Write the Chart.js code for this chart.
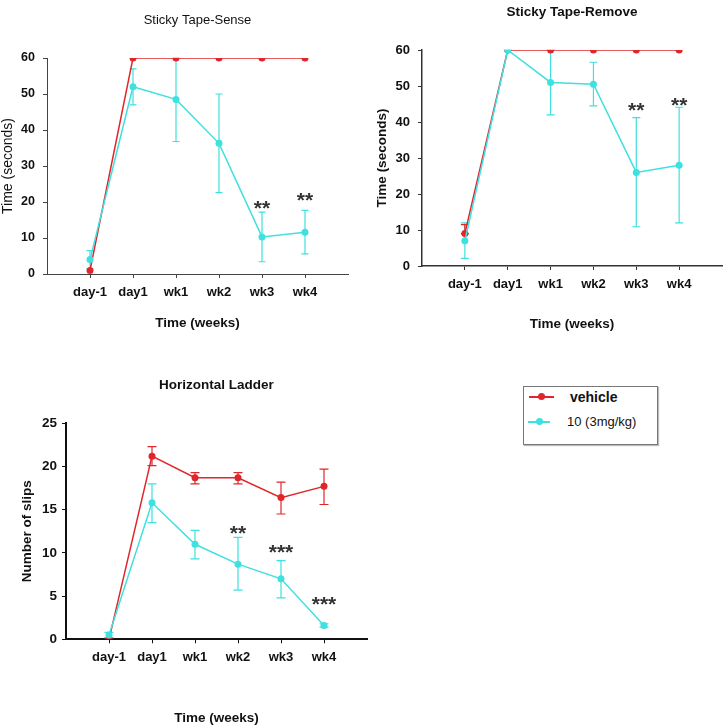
<!DOCTYPE html>
<html>
<head>
<meta charset="utf-8">
<script src="https://cdn.jsdelivr.net/npm/chart.js@4.4.1/dist/chart.umd.min.js"></script>
<style>
	body { margin: 0; background: #fff; width: 728px; height: 727px; position: relative; overflow: hidden; font-family: "Liberation Sans", Arial, sans-serif; }
	canvas { position: absolute; }
	#legend { position: absolute; left: 523px; top: 386px; width: 133px; height: 57px; border: 1px solid #777; box-shadow: 1px 1px 1px #bbb; }
	#legend .row { position: absolute; left: 0; height: 16px; line-height: 16px; color: #111; }
	#legend .mark { position: absolute; top: 7px; height: 1.5px; }
	#legend .dot { position: absolute; top: -3px; width: 7px; height: 7px; border-radius: 50%; }
</style>
</head>
<body>
<canvas id="sense" width="364" height="340" style="left:0;top:0"></canvas>
<canvas id="remove" width="364" height="340" style="left:364px;top:0"></canvas>
<canvas id="ladder" width="380" height="367" style="left:0;top:360px"></canvas>

<div id="legend">
	<div class="row" style="top:2px;width:130px">
		<span class="mark" style="left:5px;width:25px;background:#e0262b"><span class="dot" style="left:9px;background:#e0262b"></span></span>
		<span style="position:absolute;left:46px;font-weight:bold;font-size:14px">vehicle</span>
	</div>
	<div class="row" style="top:27px;width:130px">
		<span class="mark" style="left:4px;width:22px;background:#3fe0e0"><span class="dot" style="left:8px;background:#3fe0e0"></span></span>
		<span style="position:absolute;left:43px;font-size:13px">10 (3mg/kg)</span>
	</div>
</div>

<script>
const weeks = ["day-1", "day1", "wk1", "wk2", "wk3", "wk4"];

// Sticky Tape-Sense
const senseVehicle = [1, 60, 60, 60, 60, 60];
const senseDrug = [4, 52, 48.5, 36.3, 10.3, 11.6];
const senseDrugLo = [1.5, 47, 36.8, 22.6, 3.4, 5.6];
const senseDrugHi = [6.5, 57, 60, 50, 17.2, 17.7];
const senseStars = ["", "", "", "", "**", "**"];
const senseStarsAt = [null, null, null, null, 19.7, 21.9];

// Sticky Tape-Remove
const removeVehicle = [9, 60, 60, 60, 60, 60];
const removeVehicleLo = [9, null, null, null, null, null];
const removeVehicleHi = [11.5, null, null, null, null, null];
const removeDrug = [7, 60, 51, 50.5, 26, 28];
const removeDrugLo = [2.1, 60, 42, 44.5, 10.9, 12];
const removeDrugHi = [12, 60, 60, 56.6, 41.2, 44.1];
const removeStars = ["", "", "", "", "**", "**"];
const removeStarsAt = [null, null, null, null, 44.8, 46];

// Horizontal Ladder
const ladderVehicle = [0, 21.2, 18.7, 18.7, 16.4, 17.7];
const ladderVehicleLo = [null, 20.1, 18.0, 18.0, 14.5, 15.6];
const ladderVehicleHi = [null, 22.3, 19.3, 19.3, 18.2, 19.7];
const ladderDrug = [0.5, 15.8, 11.0, 8.7, 7.0, 1.6];
const ladderDrugLo = [0.2, 13.5, 9.3, 5.7, 4.8, 1.4];
const ladderDrugHi = [0.8, 18.0, 12.6, 11.8, 9.1, 1.8];
const ladderStars = ["", "", "", "**", "***", "***"];
const ladderStarsAt = [null, null, null, 12.9, 10.7, 4.7];

const RED = "#e0262b";
const CYAN = "#3fe0e0";
const FONT = "'Liberation Sans', Arial, sans-serif";

function points(values) {
	return values.map((v, i) => ({x: i, y: v}));
}

// vertical error bars with caps, under the points
const errorBars = {
	id: "errorBars",
	beforeDatasetsDraw(chart, args, opts) {
		const ctx = chart.ctx;
		const xs = chart.scales.x, ys = chart.scales.y;
		const cap = opts.cap || 4;
		chart.data.datasets.forEach(ds => {
			if(!ds.lo)
				return;
			ctx.save();
			ctx.strokeStyle = ds.borderColor;
			ctx.lineWidth = 1.2;
			ds.data.forEach((p, i) => {
				if(ds.lo[i] == null || ds.hi[i] == null)
					return;
				const px = xs.getPixelForValue(p.x);
				const top = ys.getPixelForValue(ds.hi[i]);
				const bot = ys.getPixelForValue(ds.lo[i]);
				ctx.beginPath();
				ctx.moveTo(px, top); ctx.lineTo(px, bot);
				ctx.moveTo(px - cap, top); ctx.lineTo(px + cap, top);
				ctx.moveTo(px - cap, bot); ctx.lineTo(px + cap, bot);
				ctx.stroke();
			});
			ctx.restore();
		});
	}
};

// significance stars and the panel heading
const marks = {
	id: "marks",
	afterDatasetsDraw(chart, args, opts) {
		const ctx = chart.ctx;
		const xs = chart.scales.x, ys = chart.scales.y;
		const area = chart.chartArea;
		ctx.save();
		ctx.textAlign = "center";
		ctx.fillStyle = "#111";
		ctx.textBaseline = "middle";
		ctx.font = opts.titleFont;
		ctx.fillText(opts.title, (area.left + area.right) / 2, area.top - 38);

		ctx.fillStyle = "#333";
		ctx.font = "bold 21px " + FONT;
		ctx.textBaseline = "alphabetic";
		opts.stars.forEach((s, i) => {
			if(!s)
				return;
			ctx.fillText(s, xs.getPixelForValue(i), ys.getPixelForValue(opts.starsAt[i]) + 12);
		});
		ctx.restore();
	}
};

function makeChart(id, cfg) {
	const axisColor = cfg.axisColor;
	return new Chart(document.getElementById(id), {
		type: "line",
		data: {
			datasets: [
				{
					label: "10 (3mg/kg)",
					data: points(cfg.drug),
					lo: cfg.drugLo,
					hi: cfg.drugHi,
					borderColor: CYAN,
					backgroundColor: CYAN,
					borderWidth: 1.5,
					pointRadius: 3.5,
					pointBorderWidth: 0,
					tension: 0
				},
				{
					label: "vehicle",
					data: points(cfg.vehicle),
					lo: cfg.vehicleLo,
					hi: cfg.vehicleHi,
					borderColor: RED,
					backgroundColor: RED,
					borderWidth: 1.5,
					pointRadius: 3.5,
					pointBorderWidth: 0,
					tension: 0
				}
			]
		},
		options: {
			responsive: false,
			animation: false,
			events: [],
			layout: {padding: {top: cfg.top, right: cfg.right, left: 0, bottom: 0}},
			plugins: {
				legend: {display: false},
				tooltip: {enabled: false},
				errorBars: {cap: cfg.cap},
				marks: {title: cfg.title, titleFont: cfg.titleFont, stars: cfg.stars, starsAt: cfg.starsAt}
			},
			scales: {
				x: {
					type: "linear",
					min: cfg.xMin,
					max: cfg.xMax,
					afterBuildTicks: s => { s.ticks = weeks.map((w, i) => ({value: i})); },
					afterFit: s => { s.height = cfg.xHeight; },
					border: {color: axisColor, width: cfg.axisWidth},
					grid: {drawOnChartArea: false, drawTicks: true, tickLength: 4, color: axisColor},
					ticks: {
						autoSkip: false,
						maxRotation: 0,
						padding: cfg.xPad,
						color: "#111",
						font: {family: FONT, size: 13, weight: "bold"},
						callback: v => weeks[v] !== undefined ? weeks[v] : ""
					},
					title: {
						display: true,
						text: "Time (weeks)",
						color: "#111",
						font: {family: FONT, size: 13.5, weight: "bold"},
						padding: {top: 0, bottom: cfg.xTitlePad}
					}
				},
				y: {
					min: 0,
					max: cfg.yMax,
					afterFit: s => { s.width = cfg.yWidth; },
					border: {color: axisColor, width: cfg.axisWidth},
					grid: {drawOnChartArea: false, drawTicks: true, tickLength: cfg.yTick, color: axisColor},
					ticks: {
						stepSize: cfg.yStep,
						padding: cfg.yPad,
						color: "#111",
						font: {family: FONT, size: cfg.yFont, weight: "bold"}
					},
					title: {
						display: true,
						text: cfg.yTitle,
						color: "#111",
						font: cfg.yTitleFont,
						padding: {top: cfg.yTitlePad, bottom: 0}
					}
				}
			}
		},
		plugins: [errorBars, marks]
	});
}

makeChart("sense", {
	title: "Sticky Tape-Sense",
	titleFont: "13px " + FONT,
	vehicle: senseVehicle, vehicleLo: null, vehicleHi: null,
	drug: senseDrug, drugLo: senseDrugLo, drugHi: senseDrugHi,
	stars: senseStars, starsAt: senseStarsAt,
	top: 58, right: 16, xHeight: 66, yWidth: 47,
	xMin: -1, xMax: 6, yMax: 60, yStep: 10,
	yTick: 4, yPad: 8, yFont: 12.5, xPad: 7, xTitlePad: 9,
	yTitle: "Time (seconds)", yTitleFont: {family: FONT, size: 14, weight: "normal"}, yTitlePad: 0,
	axisColor: "#444", axisWidth: 1, cap: 3.5
});

makeChart("remove", {
	title: "Sticky Tape-Remove",
	titleFont: "bold 13.5px " + FONT,
	vehicle: removeVehicle, vehicleLo: removeVehicleLo, vehicleHi: removeVehicleHi,
	drug: removeDrug, drugLo: removeDrugLo, drugHi: removeDrugHi,
	stars: removeStars, starsAt: removeStarsAt,
	top: 50, right: 6, xHeight: 74, yWidth: 58,
	xMin: -1, xMax: 6, yMax: 60, yStep: 10,
	yTick: 4, yPad: 8, yFont: 13, xPad: 6.5, xTitlePad: 8,
	yTitle: "Time (seconds)", yTitleFont: {family: FONT, size: 13.5, weight: "bold"}, yTitlePad: 10,
	axisColor: "#333", axisWidth: 1.5, cap: 4
});

makeChart("ladder", {
	title: "Horizontal Ladder",
	titleFont: "bold 13.5px " + FONT,
	vehicle: ladderVehicle, vehicleLo: ladderVehicleLo, vehicleHi: ladderVehicleHi,
	drug: ladderDrug, drugLo: ladderDrugLo, drugHi: ladderDrugHi,
	stars: ladderStars, starsAt: ladderStarsAt,
	top: 63.3, right: 13, xHeight: 87.7, yWidth: 66,
	xMin: -1, xMax: 6, yMax: 25, yStep: 5,
	yTick: 4, yPad: 5, yFont: 13.5, xPad: 6.5, xTitlePad: 1,
	yTitle: "Number of slips", yTitleFont: {family: FONT, size: 13.5, weight: "bold"}, yTitlePad: 19,
	axisColor: "#111", axisWidth: 2, cap: 4.5
});
</script>
</body>
</html>
